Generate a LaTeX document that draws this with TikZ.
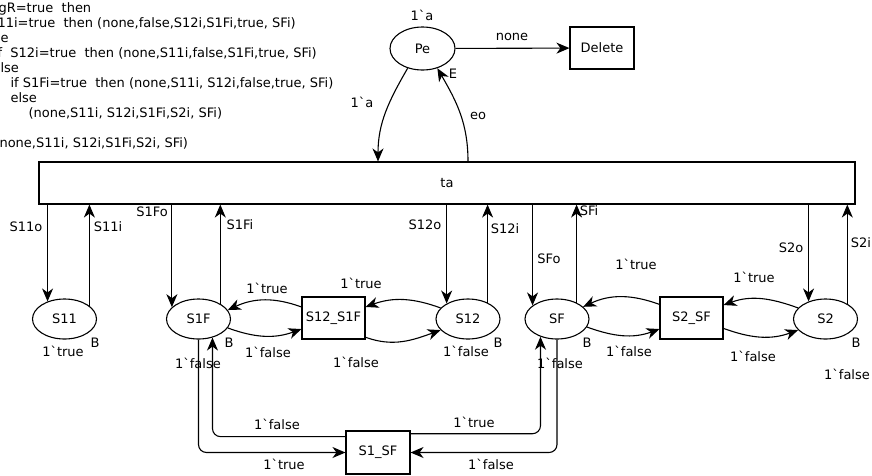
\documentclass[tikz,border=0pt]{standalone}
\usepackage{fontspec}
\setmainfont{DejaVu Sans}
\usetikzlibrary{arrows.meta,shapes.geometric}
\newcommand{\grv}{\textasciigrave}

\begin{document}
\begin{tikzpicture}[x=1pt,y=1pt,>={Stealth[length=13pt,width=11pt,inset=4pt]},line width=1.1pt,
  font=\fontsize{13}{15}\selectfont,
  place/.style={draw,ellipse,minimum width=64pt,minimum height=40pt,inner sep=1pt},
  trans/.style={draw,rectangle,minimum width=63pt,minimum height=42pt,inner sep=1pt},
  lbl/.style={inner sep=0pt},
  code/.style={anchor=base west,inner sep=0pt}]
\useasboundingbox (0,0) rectangle (872,-475);
% guard of ta, cut at the left edge
\node[code] (g1) at (-2,-12) {gR=true\ \ then};
\node[code] (g2) at (-3,-27) {11i=true\ \ then (none,false,S12i,S1Fi,true, SFi)};
\node[code] (g3) at (0,-42) {e};
\node[code] (g4) at (-3,-57) {f\ \ S12i=true\ \ then (none,S11i,false,S1Fi,true, SFi)};
\node[code] (g5) at (0,-72) {lse};
\node[code] (g6) at (10,-87) {if S1Fi=true\ \ then (none,S11i, S12i,false,true, SFi)};
\node[code] (g7) at (10,-102) {else};
\node[code] (g8) at (28,-117) {(none,S11i, S12i,S1Fi,S2i, SFi)};
\node[code] (g10) at (-1,-147) {none,S11i, S12i,S1Fi,S2i, SFi)};
% places
\node[place,minimum width=65pt,minimum height=43pt] (pe) at (422.5,-48.5) {Pe};
\node[place] (s11) at (64.5,-319) {S11};
\node[place] (s1f) at (198.5,-319) {S1F};
\node[place] (s12) at (468,-319) {S12};
\node[place] (sf) at (557,-319) {SF};
\node[place] (s2) at (825.5,-319) {S2};
% transitions
\node[trans,minimum width=64pt] (del) at (602,-48) {Delete};
\node[draw,minimum width=816pt,minimum height=42pt] (ta) at (447,-183) {ta};
\node[trans] (s12s1f) at (333.5,-318) {S12\_S1F};
\node[trans] (s2sf) at (691.5,-318) {S2\_SF};
\node[trans,minimum width=64pt,minimum height=43pt] (s1sf) at (378,-452.5) {S1\_SF};
% arcs of Pe
\draw[->] (pe) -- (del);
\draw[->] (pe.233) to[out=-120,in=90] (ta.north -| 378,0);
\draw[->] (ta.north -| 468,0) to[out=90,in=-60] (pe.-53);
% arcs between ta and the places
\draw[->] (ta.south -| s11.134) -- (s11.134);
\draw[->] (s11.28) -- (ta.south -| s11.28);
\draw[->] (ta.south -| s1f.156) -- (s1f.156);
\draw[->] (s1f.35) -- (ta.south -| s1f.35);
\draw[->] (ta.south -| s12.144) -- (s12.144);
\draw[->] (s12.40) -- (ta.south -| s12.40);
\draw[->] (ta.south -| sf.151) -- (sf.151);
\draw[->] (sf.40) -- (ta.south -| sf.40);
\draw[->] (ta.south -| s2.134) -- (s2.134);
\draw[->] (s2.35) -- (ta.south -| s2.35);
% arcs of S12_S1F and S2_SF
\draw[->] (s12s1f.161) to[out=160,in=25] (s1f.17);
\draw[->] (s1f.-17) to[out=-20,in=-160] (s12s1f.-161);
\draw[->] (s12.158) to[out=160,in=20] (s12s1f.19);
\draw[->] (s12s1f.-31) to[out=-20,in=-160] (s12.-158);
\draw[->] (s2sf.157) to[out=160,in=25] (sf.25);
\draw[->] (sf.-15) to[out=-20,in=-160] (s2sf.-161);
\draw[->] (s2.158) to[out=160,in=20] (s2sf.22);
\draw[->] (s2sf.-18) to[out=-20,in=-160] (s2.-158);
% arcs of S1_SF
\draw[->,rounded corners=8pt] (s1f.south) |- (s1sf.west);
\draw[->,rounded corners=8pt] (s1sf.154) -| (s1f.-53);
\draw[->,rounded corners=8pt] (sf.south) |- (s1sf.east);
\draw[->,rounded corners=8pt] (s1sf.30) -| (sf.-133);
% inscriptions
\node[lbl] (lpe) at (422,-15) {1\grv a};
\node[lbl] (lpeta) at (362,-102) {1\grv a};
\node[lbl] (le) at (453,-74) {E};
\node[lbl] (leo) at (478,-116) {eo};
\node[lbl] (lnone) at (512,-37) {none};
\node[lbl] (l11o) at (26,-227) {S11o};
\node[lbl] (l11i) at (108,-227) {S11i};
\node[lbl] (l1fo) at (152,-212) {S1Fo};
\node[lbl] (l1fi) at (240,-225) {S1Fi};
\node[lbl] (l12o) at (425,-225) {S12o};
\node[lbl] (l12i) at (505,-229) {S12i};
\node[lbl] (lsfo) at (549,-259) {SFo};
\node[lbl] (lsfi) at (589,-211) {SFi};
\node[lbl] (l2o) at (791,-248) {S2o};
\node[lbl] (l2i) at (861,-243) {S2i};
\node[lbl] (m11) at (63,-351) {1\grv true};
\node[lbl] (b11) at (95,-343) {B};
\node[lbl] (b1f) at (229,-343) {B};
\node[lbl] (m1f) at (198,-363) {1\grv false};
\node[lbl] (b12) at (498,-343) {B};
\node[lbl] (m12) at (466,-351) {1\grv false};
\node[lbl] (bsf) at (587,-343) {B};
\node[lbl] (msf) at (560,-363) {1\grv false};
\node[lbl] (b2) at (856,-343) {B};
\node[lbl] (m2) at (847,-374) {1\grv false};
\node[lbl] (a1) at (267,-288) {1\grv true};
\node[lbl] (a2) at (268,-352) {1\grv false};
\node[lbl] (a3) at (361,-283) {1\grv true};
\node[lbl] (a4) at (356,-362) {1\grv false};
\node[lbl] (a5) at (636,-264) {1\grv true};
\node[lbl] (a6) at (629,-351) {1\grv false};
\node[lbl] (a7) at (754,-277) {1\grv true};
\node[lbl] (a8) at (753,-356) {1\grv false};
\node[lbl] (a9) at (277,-424) {1\grv false};
\node[lbl] (a10) at (284,-464) {1\grv true};
\node[lbl] (a11) at (474,-422) {1\grv true};
\node[lbl] (a12) at (491,-464) {1\grv false};
\end{tikzpicture}
\end{document}
